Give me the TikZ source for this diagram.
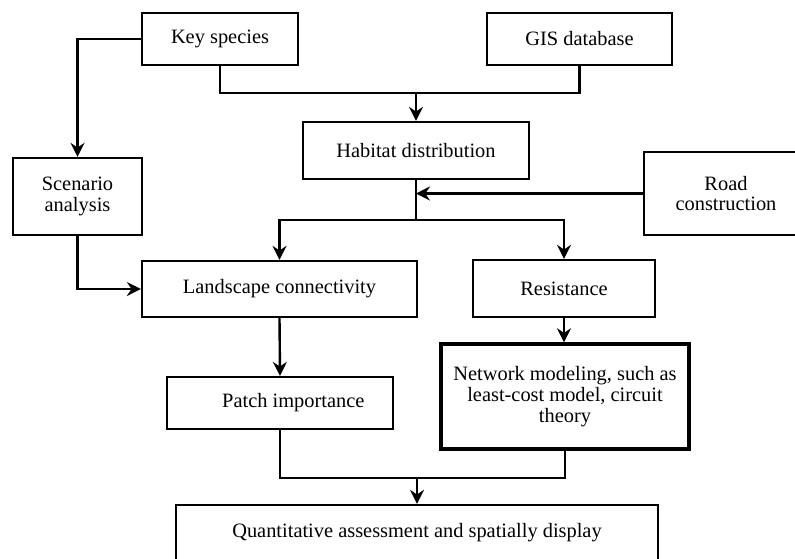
\documentclass[tikz,border=0pt]{standalone}
\usepackage{fontspec}
\setmainfont{Liberation Serif}
\usetikzlibrary{arrows.meta}

\begin{document}
\begin{tikzpicture}
      [ x=0.75pt, y=-0.75pt
      , box/.style={draw, line width=1.7pt, inner sep=0pt, align=center,
          font=\fontsize{15.3}{15.5}\selectfont}
      , heavyBox/.style={box, line width=2.6pt}
      , link/.style={draw, line width=1.8pt}
      , flow/.style={link, -{Stealth[length=10.5pt, width=10.5pt, inset=3.5pt]}}
      ]
    \useasboundingbox (0,0) rectangle (795,558);

    \node[box, minimum width=117pt, minimum height=39pt] (KS) at (220, 39) {Key species};
    \node[box, minimum width=138.75pt, minimum height=39pt] (GIS) at (579.5, 39) {GIS database};
    \node[box, minimum width=169.5pt, minimum height=42.75pt] (HD) at (416, 150.5) {Habitat distribution};
    \node[box, minimum width=123pt, minimum height=62.25pt] (RC) at (726, 193.5) {Road\\construction};
    \node[box, minimum width=96.75pt, minimum height=57.75pt] (SA) at (77.5, 196.5) {Scenario\\analysis};
    \node[box, minimum width=206.25pt, minimum height=42pt] (LC) at (279.5, 289) {Landscape connectivity};
    \node[box, minimum width=136.5pt, minimum height=42.75pt] (RS) at (564, 288.5) {Resistance};
    \node[heavyBox, minimum width=186pt, minimum height=78.75pt] (NM) at (565, 396.5)
      {Network modeling, such as\\least-cost model, circuit\\theory};
    \node[box, minimum width=169.5pt, minimum height=39pt] (PI) at (280, 403) {\hspace{20pt}Patch importance};
    \node[box, minimum width=361.5pt, minimum height=42pt] (QA) at (417, 533)
      {Quantitative assessment and spatially display};

    \coordinate (top) at (416, 93);
    \coordinate (mid) at (416, 220);
    \coordinate (low) at (417, 478);

    \draw[flow] (KS.west) -| (SA.north);
    \draw[link] (KS.south) |- (top) -| (GIS.south);
    \draw[flow] (top) -- (HD.north);

    \draw[link] (HD.south) -- (mid);
    \draw[flow] (RC.west) -- (RC.west -| HD.south);
    \draw[flow] (mid) -| (LC.north);
    \draw[flow] (mid) -| (RS.north);

    \draw[flow] (SA.south) |- (LC.west);
    \draw[flow] (LC.south) -- (PI.north);
    \draw[flow] (RS.south) -- (RS.south |- NM.north);

    \draw[link] (PI.south) |- (low) -| (NM.south);
    \draw[flow] (low) -- (QA.north);
  \end{tikzpicture}
\end{document}
